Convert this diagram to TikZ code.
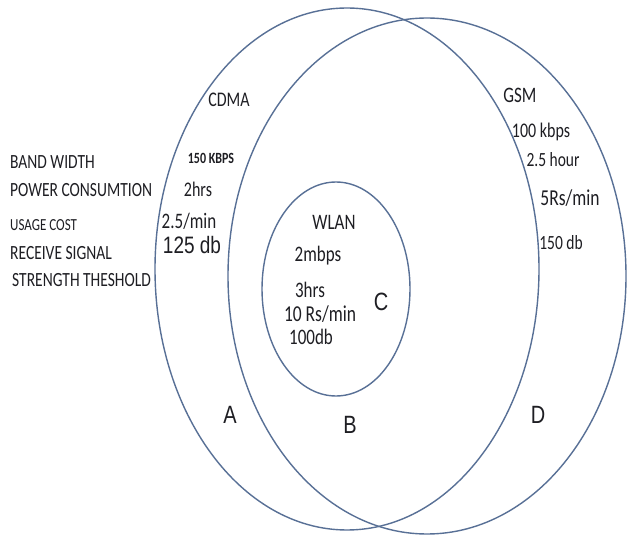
\documentclass[tikz,border=0pt]{standalone}
\usepackage{fontspec}
\usepackage{graphicx}
\setmainfont{Carlito}
\newfontfamily\arialf{Liberation Sans}
\definecolor{ringc}{RGB}{88,112,150}
\definecolor{txt}{RGB}{30,30,35}
\newcommand\vst[1]{\scalebox{1}[1.3]{#1}}
\newcommand\vsa[1]{\scalebox{1}[1.25]{#1}}
\tikzset{
  ring/.style={draw=ringc, line width=1.4pt},
  lbl/.style={inner sep=0pt, text=txt, anchor=west},
  val/.style={inner sep=0pt, text=txt},
}
\begin{document}
\begin{tikzpicture}[x=1pt,y=-1pt]
\useasboundingbox (0,0) rectangle (627,537);
\fill[white] (0,0) rectangle (627,537);
% circles
\draw[ring] (347,269) ellipse [x radius=192, y radius=261];
\draw[ring] (427,276) ellipse [x radius=199, y radius=258];
\draw[ring] (336,289) ellipse [x radius=74, y radius=107];
% left labels
\node[lbl, font=\fontsize{15.5}{16}\selectfont] (bw) at (10,162) {\vst{BAND WIDTH}};
\node[lbl, font=\fontsize{15.5}{16}\selectfont] (pc) at (10,190) {\vst{POWER CONSUMTION}};
\node[lbl, font=\fontsize{13}{14}\selectfont] (uc) at (10,225) {\vst{USAGE COST}};
\node[lbl, font=\fontsize{15.5}{16}\selectfont] (rs) at (10,253) {\vst{RECEIVE SIGNAL}};
\node[lbl, font=\fontsize{15.5}{16}\selectfont] (st) at (12,280) {\vst{STRENGTH THESHOLD}};
% CDMA
\node[val, font=\fontsize{16}{17}\selectfont] (cdma) at (229,100) {\vst{CDMA}};
\node[val, font=\bfseries\fontsize{12}{13}\selectfont] (c1) at (211,158) {\vst{150 KBPS}};
\node[val, font=\fontsize{16}{17}\selectfont] (c2) at (198,189) {\vst{2hrs}};
\node[val, font=\fontsize{17}{18}\selectfont] (c3) at (189,221) {\vst{2.5/min}};
\node[val, font=\arialf\fontsize{19}{20}\selectfont] (c4) at (192,245) {\vsa{125 db}};
% WLAN
\node[val, font=\fontsize{17}{18}\selectfont] (wlan) at (334,222) {\vst{WLAN}};
\node[val, font=\fontsize{17}{18}\selectfont] (w1) at (318,256) {\vst{2mbps}};
\node[val, font=\fontsize{17}{18}\selectfont] (w2) at (310,290) {\vst{3hrs}};
\node[val, font=\fontsize{17.5}{18}\selectfont] (w3) at (320,314) {\vst{10 Rs/min}};
\node[val, font=\fontsize{17}{18}\selectfont] (w4) at (311,337) {\vst{100db}};
% GSM
\node[val, font=\fontsize{17}{18}\selectfont] (gsm) at (520,95) {\vst{GSM}};
\node[val, font=\fontsize{16}{17}\selectfont] (g1) at (541,132) {\vst{100 kbps}};
\node[val, font=\fontsize{15.5}{16}\selectfont] (g2) at (553,160) {\vst{2.5 hour}};
\node[val, font=\fontsize{17.5}{18}\selectfont] (g3) at (570,198) {\vst{5Rs/min}};
\node[val, font=\fontsize{15.5}{16}\selectfont] (g4) at (561,243) {\vst{150 db}};
% region letters
\node[val, font=\arialf\fontsize{20}{21}\selectfont] (A) at (230,415) {\vsa{A}};
\node[val, font=\arialf\fontsize{20}{21}\selectfont] (B) at (350,425) {\vsa{B}};
\node[val, font=\arialf\fontsize{20}{21}\selectfont] (C) at (381,302) {\vsa{C}};
\node[val, font=\arialf\fontsize{20}{21}\selectfont] (D) at (538,415) {\vsa{D}};
\end{tikzpicture}
\end{document}
